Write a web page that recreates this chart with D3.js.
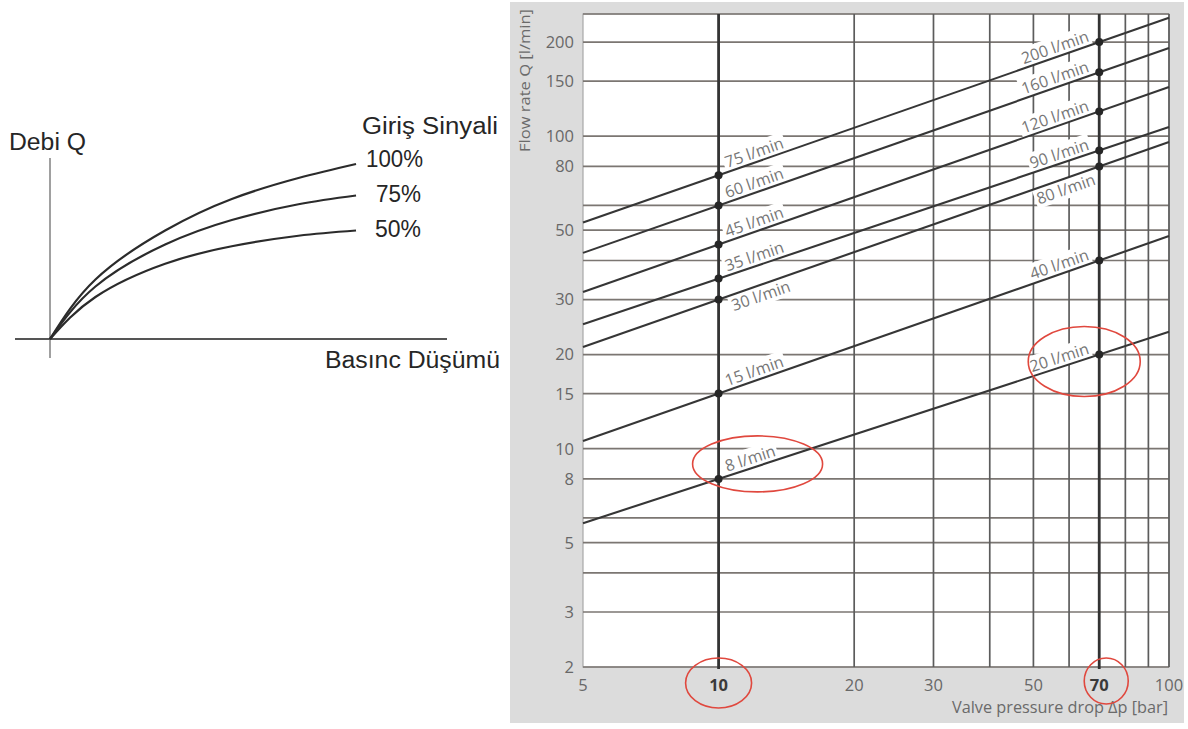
<!DOCTYPE html>
<html>
<head>
<meta charset="utf-8">
<script src="https://cdn.jsdelivr.net/npm/d3@7"></script>
<style>
  body { margin: 0; background: #fff; }
  svg { display: block; }
</style>
</head>
<body>
<svg id="chart" width="1188" height="729"></svg>
<script>
// ---- Sketch: flow against pressure drop for three input signals ----
const sketchDp = [0, 15, 38, 60, 82, 101];
const sketchSignals = ["100%", "75%", "50%"];
const sketchFlow100 = [0, 34, 62, 80, 92, 100];
const sketchFlow75 = [0, 30, 54, 68, 77, 82];
const sketchFlow50 = [0, 24, 43, 53, 59, 62];

// ---- Nomogram: flow rate against valve pressure drop ----
const refPressures = [10, 70];                       // bar, the two marked columns
const flowAt10 = [75, 60, 45, 35, 30, 15, 8];        // l/min at 10 bar
const flowAt70 = [200, 160, 120, 90, 80, 40, 20];    // l/min at 70 bar
const labelBelow = [false, false, false, false, true, false, false];
const xTickValues = [5, 10, 20, 30, 50, 70, 100];
const xBoldTicks = [10, 70];
const xGridValues = [10, 20, 30, 40, 50, 60, 70, 80, 90, 100];
const yTickValues = [2, 3, 5, 8, 10, 15, 20, 30, 50, 80, 100, 150, 200];
const yGridValues = [2, 3, 4, 5, 6, 8, 10, 15, 20, 30, 40, 50, 60, 80, 100, 150, 200];
const circledLabels = [{ p: 10, q: 8 }, { p: 70, q: 20 }];
const circledTicks = [10, 70];

const svg = d3.select("#chart");

// ================= Sketch =================
const sx = d3.scaleLinear().domain([0, 100]).range([50, 353]);
const sy = d3.scaleLinear().domain([0, 100]).range([339, 164]);
const sketch = svg.append("g");

sketch.append("line").attr("x1", 50).attr("x2", 50).attr("y1", 158).attr("y2", 358)
  .attr("stroke", "#808080").attr("stroke-width", 1.5);
sketch.append("line").attr("x1", 15).attr("x2", 447).attr("y1", 339).attr("y2", 339)
  .attr("stroke", "#555").attr("stroke-width", 2);

const sketchLine = d3.line().x(d => sx(d[0])).y(d => sy(d[1])).curve(d3.curveNatural);
[sketchFlow100, sketchFlow75, sketchFlow50].forEach(series => {
  sketch.append("path")
    .attr("d", sketchLine(sketchDp.map((p, i) => [p, series[i]])))
    .attr("fill", "none").attr("stroke", "#2b2b2b").attr("stroke-width", 2.2);
});

const sketchText = (txt, px, py, len) => sketch.append("text")
  .attr("x", px).attr("y", py).text(txt)
  .attr("font-family", "Liberation Sans, Arial, sans-serif").attr("font-size", 23)
  .attr("fill", "#262626").attr("textLength", len).attr("lengthAdjust", "spacingAndGlyphs");

sketchText("Debi Q", 9, 150, 77);
sketchText("Giriş Sinyali", 362, 134, 136);
sketchText(sketchSignals[0], 366, 167, 57);
sketchText(sketchSignals[1], 376, 202, 45);
sketchText(sketchSignals[2], 375, 237, 46);
sketchText("Basınc Düşümü", 325, 368, 175);

// ================= Nomogram =================
const plotLeft = 583, plotRight = 1169, plotTop = 14, plotBottom = 667;
const x = d3.scaleLog().domain([5, 100]).range([plotLeft, plotRight]);
const y = d3.scaleLog().domain([2, 246]).range([plotBottom, plotTop]);

const nomo = svg.append("g");
nomo.append("rect").attr("x", 510).attr("y", 2).attr("width", 674).attr("height", 721)
  .attr("fill", "#dcdcdc");
nomo.append("rect").attr("x", plotLeft).attr("y", plotTop)
  .attr("width", plotRight - plotLeft).attr("height", plotBottom - plotTop)
  .attr("fill", "#fff").attr("stroke", "#a8a8a8").attr("stroke-width", 1.2);

// horizontal grid
nomo.append("g").selectAll("line").data(yGridValues).join("line")
  .attr("x1", plotLeft).attr("x2", plotRight)
  .attr("y1", d => y(d)).attr("y2", d => y(d))
  .attr("stroke", "#7b7672").attr("stroke-width", 1.7);
nomo.append("line").attr("x1", plotLeft).attr("x2", plotRight).attr("y1", plotTop).attr("y2", plotTop)
  .attr("stroke", "#7b7672").attr("stroke-width", 1.7);

// vertical grid
nomo.append("g").selectAll("line").data(xGridValues.filter(d => !refPressures.includes(d))).join("line")
  .attr("x1", d => x(d)).attr("x2", d => x(d))
  .attr("y1", plotTop).attr("y2", plotBottom)
  .attr("stroke", "#5c5c5c").attr("stroke-width", 1.7);

// flow lines: straight on log-log axes through the values at 10 and 70 bar
const lines = flowAt10.map((q10, i) => {
  const q70 = flowAt70[i];
  const b = Math.log(q70 / q10) / Math.log(refPressures[1] / refPressures[0]);
  const f = p => q10 * Math.pow(p / refPressures[0], b);
  return { q10, q70, f, below: labelBelow[i] };
});

const angleOf = l => Math.atan2(y(l.f(100)) - y(l.f(5)), x(100) - x(5)) * 180 / Math.PI;

// labels with white backing
const labelLayer = nomo.append("g");
function addLabel(l, txt, px, anchor, below) {
  const pv = x.invert(px);
  const py = y(l.f(pv));
  const g = labelLayer.append("g")
    .attr("transform", `translate(${px},${py}) rotate(${angleOf(l)})`);
  const t = g.append("text")
    .attr("x", 0).attr("y", below ? 16 : -4)
    .attr("text-anchor", anchor)
    .attr("font-family", "Open Sans, sans-serif").attr("font-size", 16)
    .attr("fill", "#767676").text(txt);
  const bb = t.node().getBBox();
  g.insert("rect", "text")
    .attr("x", bb.x - 2).attr("y", bb.y + 1).attr("width", bb.width + 4).attr("height", bb.height - 2)
    .attr("fill", "#fff");
}
lines.forEach(l => {
  addLabel(l, `${l.q10} l/min`, x(refPressures[0]) + 10, "start", l.below);
  addLabel(l, `${l.q70} l/min`, x(refPressures[1]) - 8, "end", l.below);
});

// the flow lines themselves
nomo.append("g").selectAll("line").data(lines).join("line")
  .attr("x1", x(5)).attr("x2", x(100))
  .attr("y1", d => y(d.f(5))).attr("y2", d => y(d.f(100)))
  .attr("stroke", "#363636").attr("stroke-width", 2.1);

// reference columns at 10 and 70 bar
nomo.append("g").selectAll("line").data(refPressures).join("line")
  .attr("x1", d => x(d)).attr("x2", d => x(d))
  .attr("y1", plotTop).attr("y2", plotBottom + 2)
  .attr("stroke", "#333").attr("stroke-width", 2.8);

// dots where the flow lines meet the reference columns
const dots = [];
lines.forEach(l => { dots.push([refPressures[0], l.q10]); dots.push([refPressures[1], l.q70]); });
nomo.append("g").selectAll("circle").data(dots).join("circle")
  .attr("cx", d => x(d[0])).attr("cy", d => y(d[1])).attr("r", 4)
  .attr("fill", "#262626");

// axis tick labels
nomo.append("g").selectAll("text").data(yTickValues).join("text")
  .attr("x", 574).attr("y", d => y(d)).attr("dy", "0.36em")
  .attr("text-anchor", "end")
  .attr("font-family", "Open Sans, sans-serif").attr("font-size", 16.5)
  .attr("fill", "#686868").text(d => d);

nomo.append("g").selectAll("text").data(xTickValues).join("text")
  .attr("x", d => x(d)).attr("y", 691)
  .attr("text-anchor", "middle")
  .attr("font-family", "Open Sans, sans-serif").attr("font-size", 16.5)
  .attr("font-weight", d => xBoldTicks.includes(d) ? 700 : 400)
  .attr("fill", d => xBoldTicks.includes(d) ? "#3a3a3a" : "#686868")
  .text(d => d);

// axis titles
nomo.append("text")
  .attr("x", 952).attr("y", 713)
  .attr("font-family", "Open Sans, sans-serif").attr("font-size", 15.5)
  .attr("textLength", 216).attr("lengthAdjust", "spacingAndGlyphs")
  .attr("fill", "#6a6a6a").text("Valve pressure drop  Δp [bar]");
nomo.append("text")
  .attr("transform", "translate(530,152) rotate(-90)")
  .attr("font-family", "Open Sans, sans-serif").attr("font-size", 14.5)
  .attr("textLength", 143).attr("lengthAdjust", "spacingAndGlyphs")
  .attr("fill", "#6a6a6a").text("Flow rate Q [l/min]");

// red hand-drawn circles around the highlighted readings
const red = nomo.append("g").attr("fill", "none").attr("stroke", "#e0483e").attr("stroke-width", 1.6);
red.append("ellipse").attr("cx", x(circledLabels[0].p) + 39).attr("cy", y(circledLabels[0].q) - 15)
  .attr("rx", 65).attr("ry", 28);
red.append("ellipse").attr("cx", x(circledLabels[1].p) - 15).attr("cy", y(circledLabels[1].q) + 7)
  .attr("rx", 56).attr("ry", 35);
red.append("ellipse").attr("cx", x(circledTicks[0])).attr("cy", 683).attr("rx", 33).attr("ry", 25);
red.append("ellipse").attr("cx", x(circledTicks[1]) + 7).attr("cy", 681).attr("rx", 22).attr("ry", 23);
</script>
</body>
</html>
